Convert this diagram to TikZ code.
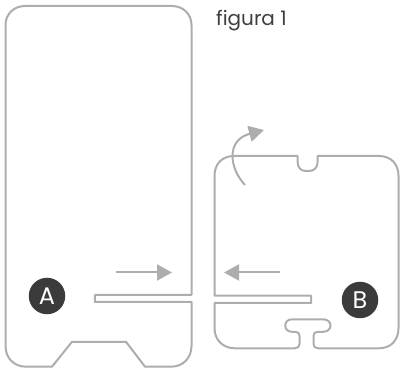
\documentclass[tikz,border=0pt]{standalone}
\usepackage{fontspec}
\setmainfont{Poppins}
\usetikzlibrary{arrows.meta}
\definecolor{outl}{HTML}{ADADB0}
\definecolor{badge}{HTML}{3B3B3B}
\definecolor{txt}{HTML}{3F3F3F}
\tikzset{
  piece/.style={draw=outl,line width=2pt,line join=round},
  push/.style={draw=outl,line width=2pt,-{Triangle[length=15pt,width=16pt,fill=outl]}},
  badgenode/.style={circle,fill=badge,minimum size=36.5pt,inner sep=0pt,text=white,font=\fontsize{24}{24}\selectfont},
}
\begin{document}
\begin{tikzpicture}[x=1pt,y=-1pt]
\useasboundingbox (0,0) rectangle (400,369);
% piece A
\draw[piece] (191.5,295) -- (94.8,295) -- (94.8,302) -- (191.5,302) -- (191.5,346)
  .. controls (191.5,358) and (183,366.7) .. (171,366.7) -- (145,366.7) -- (126,341.8) -- (72,341.8) -- (52,366.7) -- (26,366.7)
  .. controls (14,366.7) and (5.5,358) .. (5.5,346) -- (5.5,25)
  .. controls (5.5,14) and (14,6) .. (25,6) -- (172,6)
  .. controls (183,6) and (191.5,14) .. (191.5,25) -- cycle;
% piece B
\draw[piece] (214.5,295.7) -- (311,295.7) -- (311,303) -- (214.5,303) -- (214.5,328)
  .. controls (214.5,340) and (223,348.3) .. (235,348.3) -- (295,348.3)
  .. controls (298,348.3) and (299.5,346.5) .. (299.5,344) -- (299.5,336)
  .. controls (299.5,333) and (298,331.8) .. (295,331.8) -- (292,331.8)
  .. controls (283,331.8) and (283,319.3) .. (292,319.3) -- (323,319.3)
  .. controls (333,319.3) and (333,331.8) .. (323,331.8) -- (318,331.8)
  .. controls (315,331.8) and (313.5,333) .. (313.5,336) -- (313.5,344)
  .. controls (313.5,346.5) and (315,348.3) .. (318,348.3) -- (379,348.3)
  .. controls (391,348.3) and (398.5,340) .. (398.5,328) -- (398.5,176)
  .. controls (398.5,164) and (391,156) .. (379,156) -- (317.7,156) -- (317.7,161)
  .. controls (317.7,168) and (314,171) .. (309,171) -- (306,171)
  .. controls (301,171) and (297.5,168) .. (297.5,161) -- (297.5,156) -- (234,156)
  .. controls (222,156) and (214.5,164) .. (214.5,176) -- cycle;
% arrows
\coordinate (a1) at (116,272.5); \coordinate (a2) at (172,272.5);
\coordinate (b1) at (280,272.5); \coordinate (b2) at (224,272.5);
\coordinate (c1) at (245,185);   \coordinate (c2) at (264,130);
\draw[push] (a1) -- (a2);
\draw[push] (b1) -- (b2);
\draw[push] (c1) .. controls (229,168) and (226,140) .. (c2);
% labels
\node[badgenode] (A) at (47,296) {A};
\node[badgenode] (B) at (360,300) {B};
\node[anchor=base west,inner sep=0pt,text=txt,font=\fontsize{20}{22}\selectfont] (fig) at (216,26) {figura 1};
\end{tikzpicture}
\end{document}
